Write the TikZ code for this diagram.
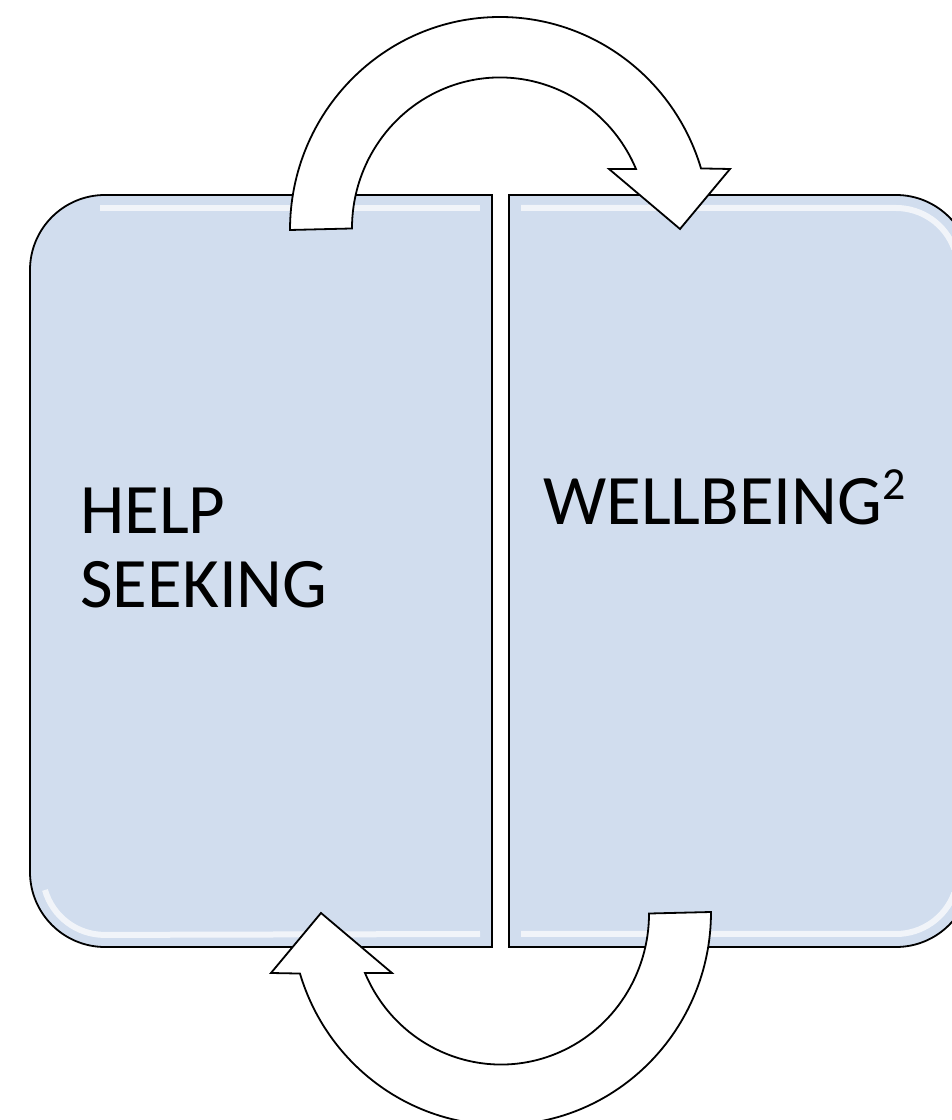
\documentclass[tikz,border=0pt]{standalone}
\usepackage{fontspec}
\setmainfont{Carlito}
\definecolor{panelblue}{HTML}{D1DDEE}
\newcommand{\supnum}[1]{\raisebox{25pt}{\fontsize{46}{46}\selectfont #1}}
\tikzset{
  panel/.style={fill=panelblue, draw=black, line width=1.8pt},
  shine/.style={draw=white, opacity=0.7, line width=6pt},
  bigarrow/.style={fill=white, draw=black, line width=1.8pt, line join=miter},
  label/.style={anchor=base west, align=left, inner sep=0pt,
    font=\fontsize{71}{74}\selectfont}
}
\begin{document}
\begin{tikzpicture}[x=1pt,y=1pt]
  \useasboundingbox (0,0) rectangle (952,1120);
  \clip (0,0) rectangle (952,1120);
  % panels
  \draw[panel] (492,173) -- (492,925) -- (105,925)
    arc[start angle=90,end angle=180,radius=75] -- (30,248)
    arc[start angle=180,end angle=270,radius=75] -- cycle;
  \draw[panel] (509,173) -- (509,925) -- (896,925)
    arc[start angle=90,end angle=0,radius=75] -- (971,248)
    arc[start angle=0,end angle=-90,radius=75] -- cycle;
  % highlights
  \draw[shine] (480,912) -- (100,912);
  \draw[shine] (45,230) arc[start angle=196,end angle=270,radius=62] -- (480,186);
  \draw[shine] (521,912) -- (896,912) arc[start angle=90,end angle=20,radius=62];
  \draw[shine] (521,186) -- (896,186) arc[start angle=-90,end angle=-20,radius=62];
  % texts
  \node[label] (help) at (80,512) {HELP\\SEEKING};
  \node[label] (well) at (543,595) {WELLBEING\supnum{2}};
  % arrows
  \draw[bigarrow] (290,890)
    arc[start angle=180,end angle=16.8,x radius=210,y radius=213]
    -- (730,951) -- (680,891) -- (609,951) -- (636,951)
    arc[start angle=23.2,end angle=180,x radius=148,y radius=151] -- cycle;
  \begin{scope}[rotate around={180:(500.5,549)}]
    \draw[bigarrow] (290,890)
      arc[start angle=180,end angle=16.8,x radius=210,y radius=213]
      -- (730,951) -- (680,891) -- (609,951) -- (636,951)
      arc[start angle=23.2,end angle=180,x radius=148,y radius=151] -- cycle;
  \end{scope}
\end{tikzpicture}
\end{document}
